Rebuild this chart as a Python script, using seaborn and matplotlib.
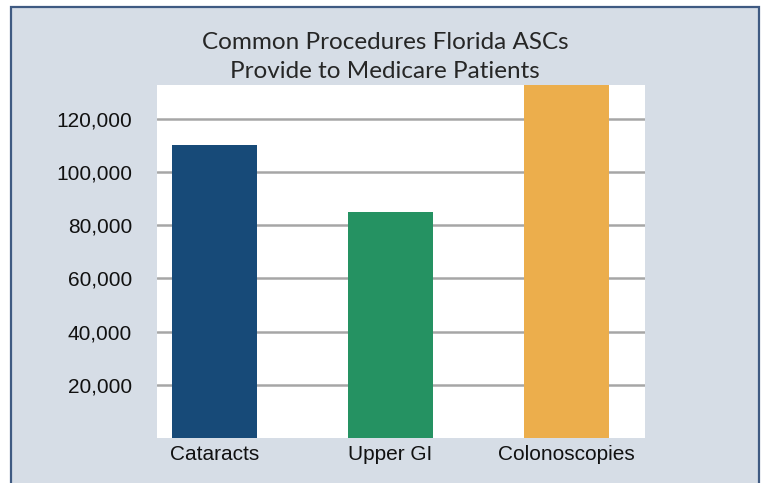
import matplotlib
matplotlib.use("Agg")
import matplotlib.pyplot as plt
import seaborn as sns
import pandas as pd
from matplotlib.patches import Rectangle

# Data
categories = ["Cataracts", "Upper GI", "Colonoscopies"]
values = [110000, 85000, 133000]
colors = ["#174a78", "#259262", "#ecae4c"]
ytick_values = [20000, 40000, 60000, 80000, 100000, 120000]
ytick_labels = ["20,000", "40,000", "60,000", "80,000", "100,000", "120,000"]
title = "Common Procedures Florida ASCs\nProvide to Medicare Patients"

df = pd.DataFrame({"Procedure": categories, "Count": values})

sns.set_theme(style="white")
plt.rcParams["font.family"] = ["Liberation Sans", "DejaVu Sans"]

W, H = 761, 483
fig = plt.figure(figsize=(W / 100, H / 100), dpi=100)
fig.patch.set_facecolor("white")

# background panel
panel = Rectangle((11 / W, -0.05), (759 - 11) / W, (H - 7) / H + 0.05,
                  transform=fig.transFigure, facecolor="#d6dde6",
                  edgecolor="#3f5a82", linewidth=1.6, zorder=-5)
fig.patches.append(panel)

ax = fig.add_axes([157 / W, (H - 438) / H, (645 - 157) / W, (438 - 85) / H])
ax.set_zorder(2)
ax.set_facecolor("white")

sns.barplot(data=df, x="Procedure", y="Count", hue="Procedure",
            palette=colors, order=categories, hue_order=categories,
            width=0.48, saturation=1, legend=False, ax=ax, zorder=3,
            linewidth=0, edgecolor="none")

ax.set_xlim(-0.327, 2.446)
ax.set_ylim(0, 132600)
ax.set_yticks(ytick_values)
ax.set_yticklabels(ytick_labels)
ax.yaxis.grid(True, color="#a6a6a6", linewidth=1.8)
ax.xaxis.grid(False)
ax.set_axisbelow(True)
for s in ax.spines.values():
    s.set_visible(False)
ax.tick_params(axis="y", length=0, pad=18, labelsize=15, labelcolor="#111111")
ax.tick_params(axis="x", length=0, pad=5, labelsize=15, labelcolor="#111111")
ax.set_xlabel("")
ax.set_ylabel("")

fig.text(385 / W, 1 - 57 / H, title, ha="center", va="center",
         fontsize=17.5, color="#262626", family=["Lato", "DejaVu Sans"],
         linespacing=1.5, zorder=3)

fig.savefig("out.png", dpi=100)
